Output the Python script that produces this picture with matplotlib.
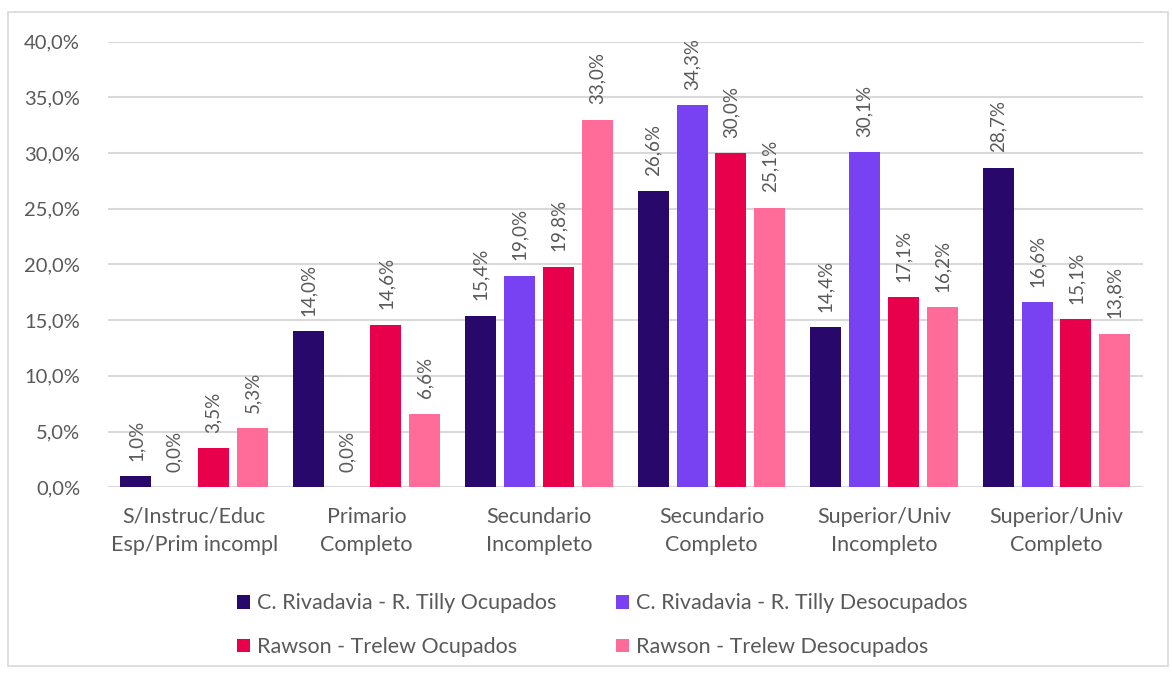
import matplotlib.pyplot as plt
import numpy as np
from matplotlib.patches import Rectangle

categorias = ['S/Instruc/Educ\nEsp/Prim incompl', 'Primario\nCompleto', 'Secundario\nIncompleto',
              'Secundario\nCompleto', 'Superior/Univ\nIncompleto', 'Superior/Univ\nCompleto']
series = ['C. Rivadavia - R. Tilly Ocupados', 'C. Rivadavia - R. Tilly Desocupados',
          'Rawson - Trelew Ocupados', 'Rawson - Trelew Desocupados']
riv_ocup = [1.0, 14.0, 15.4, 26.6, 14.4, 28.7]
riv_desoc = [0.0, 0.0, 19.0, 34.3, 30.1, 16.6]
raw_ocup = [3.5, 14.6, 19.8, 30.0, 17.1, 15.1]
raw_desoc = [5.3, 6.6, 33.0, 25.1, 16.2, 13.8]
colores = ['#28086b', '#7841f2', '#e8004c', '#ff6c99']

plt.rcParams['font.family'] = ['Lato', 'DejaVu Sans']
gris = '#595959'

fig = plt.figure(figsize=(11.72, 6.73), dpi=100)
ax = fig.add_axes([0.092, 0.276, 0.883, 0.662])
fig.patches.append(Rectangle((0.007, 0.01), 0.99, 0.972, transform=fig.transFigure,
                             fill=False, edgecolor='#d9d9d9', lw=1.2))

x = np.arange(len(categorias))
ancho = 0.18
paso = 0.225
barras = []
for i, (vals, c, nom) in enumerate(zip([riv_ocup, riv_desoc, raw_ocup, raw_desoc], colores, series)):
    pos = x + (i - 1.5) * paso
    barras.append(ax.bar(pos, vals, ancho, color=c, label=nom, zorder=3))
    for p, v in zip(pos, vals):
        ax.annotate(f'{v:.1f}%'.replace('.', ','), (p, v), xytext=(0, 11), textcoords='offset points',
                    rotation=90, ha='center', va='bottom', fontsize=13.5, color=gris)

ax.set_ylim(0, 40)
ax.set_xlim(-0.5, len(categorias) - 0.5)
ax.set_yticks(np.arange(0, 41, 5))
ax.set_yticklabels([f'{t:.1f}%'.replace('.', ',') for t in np.arange(0, 41, 5)])
ax.set_xticks(x)
ax.set_xticklabels(categorias, linespacing=1.5)
ax.tick_params(axis='both', length=0, colors=gris)
ax.tick_params(axis='x', pad=14, labelsize=15.5)
ax.tick_params(axis='y', pad=20, labelsize=14.5)
ax.grid(axis='y', color='#d9d9d9', lw=1.5, zorder=0)
for s in ax.spines.values():
    s.set_visible(False)
ax.axhline(0, color='#d9d9d9', lw=1.5, zorder=2)

orden = [0, 2, 1, 3]
leg = fig.legend([barras[k] for k in orden], [series[k] for k in orden],
                 loc='lower left', bbox_to_anchor=(0.186, -0.005), ncol=2, frameon=False,
                 fontsize=15.5, handlelength=0.6, handleheight=0.6, handletextpad=0.3,
                 columnspacing=2.8, labelspacing=1.1)
for t in leg.get_texts():
    t.set_color(gris)

fig.savefig('out.png', dpi=100)
